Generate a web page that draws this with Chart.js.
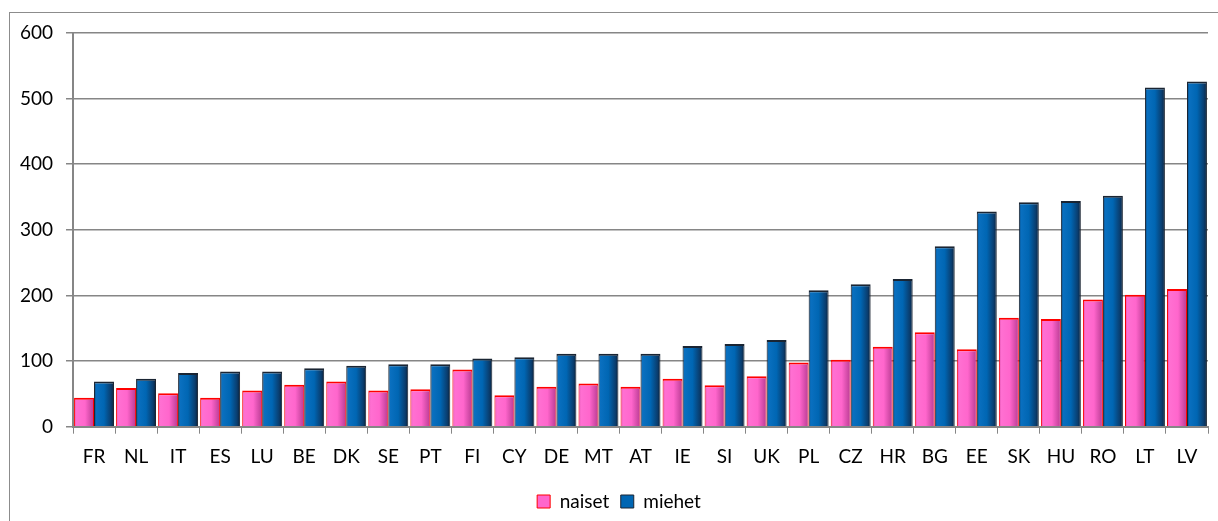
<!DOCTYPE html>
<html>
<head>
<meta charset="utf-8">
<script src="https://cdn.jsdelivr.net/npm/chart.js@4"></script>
<style>
  html, body { margin: 0; padding: 0; background: #fff; overflow: hidden; }
  #frame { position: absolute; left: 9px; top: 12px; width: 1400px; height: 700px;
           border-left: 1px solid #8c8c8c; border-top: 1px solid #8c8c8c; }
  #wrap { position: absolute; left: 0; top: 0; width: 1218px; height: 521px; }
</style>
</head>
<body>
<div id="frame"></div>
<div id="wrap"><canvas id="chart"></canvas></div>
<script>
const countries = ["FR", "NL", "IT", "ES", "LU", "BE", "DK", "SE", "PT", "FI", "CY", "DE", "MT", "AT",
  "IE", "SI", "UK", "PL", "CZ", "HR", "BG", "EE", "SK", "HU", "RO", "LT", "LV"];
const naiset = [44, 59, 51, 44, 55, 64, 69, 55, 57, 87, 48, 61, 66, 61,
  73, 63, 77, 98, 102, 122, 144, 118, 166, 164, 194, 201, 210];
const miehet = [69, 73, 82, 84, 84, 89, 93, 95, 95, 104, 106, 111, 111, 111,
  123, 126, 132, 208, 217, 225, 275, 328, 342, 344, 352, 517, 526];
const yTicks = [0, 100, 200, 300, 400, 500, 600];

const font = { family: "Lato, 'Open Sans', sans-serif", size: 19 };
const gray = "#868686";

// horizontal shading, roughly like the glossy office bars
const shades = [
  [[0, "#d94aa8"], [0.12, "#ff70d2"], [0.55, "#ff66cc"], [1, "#b83a92"]],
  [[0, "#0a2a4a"], [0.1, "#0a70c0"], [0.5, "#0066b3"], [0.85, "#0a3d6e"], [1, "#0a1e36"]]
];

const barShade = {
  id: "barShade",
  beforeDatasetDraw(chart, args) {
    const stops = shades[args.index];
    args.meta.data.forEach(bar => {
      const left = bar.x - bar.width / 2;
      const g = chart.ctx.createLinearGradient(left, 0, left + bar.width, 0);
      stops.forEach(s => g.addColorStop(s[0], s[1]));
      bar.options = Object.assign({}, bar.options, { backgroundColor: g });
    });
  }
};

// the legend sits a little right of the canvas centre in the original
const legendShift = {
  id: "legendShift",
  afterLayout(chart) {
    chart.legend.left += 15;
    chart.legend.right += 15;
  }
};

new Chart(document.getElementById("chart"), {
  type: "bar",
  data: {
    labels: countries,
    datasets: [
      { label: "naiset", data: naiset, backgroundColor: "#ff66cc", borderColor: "#ff0000",
        borderWidth: { top: 2, left: 1, right: 1, bottom: 0 } },
      { label: "miehet", data: miehet, backgroundColor: "#0066b3", borderColor: "#1a2533",
        borderWidth: { top: 2, left: 1, right: 1, bottom: 0 } }
    ]
  },
  plugins: [barShade, legendShift],
  options: {
    responsive: true,
    maintainAspectRatio: false,
    animation: false,
    layout: { padding: { left: 0, right: 10, top: 33, bottom: 0 } },
    datasets: { bar: { categoryPercentage: 0.95, barPercentage: 1.0 } },
    scales: {
      x: {
        grid: { drawOnChartArea: false, drawTicks: true, tickLength: 7, color: gray, offset: true },
        border: { color: gray, width: 2 },
        ticks: { color: "#000", font: font, padding: 12, maxRotation: 0, autoSkip: false }
      },
      y: {
        min: 0, max: 600,
        afterFit: s => { s.width = 73; },
        afterBuildTicks: s => { s.ticks = yTicks.map(v => ({ value: v })); },
        grid: { color: gray, lineWidth: 1.5, tickLength: 7 },
        border: { color: gray, width: 2 },
        ticks: { color: "#000", font: font, padding: 13 }
      }
    },
    plugins: {
      legend: {
        position: "bottom",
        labels: {
          color: "#000", font: font, boxWidth: 13, boxHeight: 13, padding: 11.5,
          generateLabels: chart => chart.data.datasets.map((d, i) => ({
            text: d.label, fillStyle: d.backgroundColor, strokeStyle: d.borderColor,
            lineWidth: 1, datasetIndex: i
          }))
        }
      },
      tooltip: { enabled: false }
    }
  }
});
</script>
</body>
</html>
